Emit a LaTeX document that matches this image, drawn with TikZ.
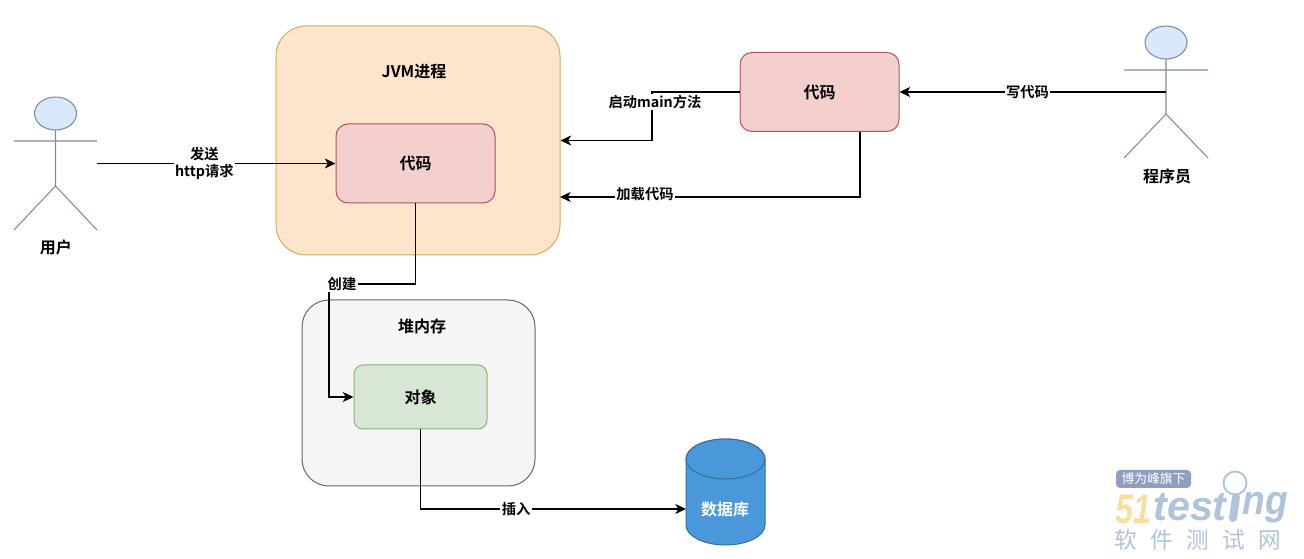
\documentclass[tikz,border=0pt]{standalone}
\usepackage{fontspec}
\setmainfont{Liberation Sans}
\newfontfamily\cjk{Noto Sans CJK SC}[BoldFont={Noto Sans CJK SC Bold}]
\usetikzlibrary{arrows.meta}
\definecolor{actorline}{HTML}{7F8BA3}
\definecolor{actorfill}{HTML}{DAE8FC}
\definecolor{wmblue}{HTML}{AFC3DC}
\definecolor{wmbadge}{HTML}{8E9FC2}
\definecolor{wmyellow}{HTML}{F8DFA0}
\definecolor{jvmfill}{HTML}{FCE5CB}
\definecolor{jvmdraw}{HTML}{CFAE5C}
\definecolor{codefill}{HTML}{F3D0CD}
\definecolor{codedraw}{HTML}{B0565A}
\definecolor{heapfill}{HTML}{F5F5F5}
\definecolor{heapdraw}{HTML}{666666}
\definecolor{objfill}{HTML}{D8E7D5}
\definecolor{objdraw}{HTML}{8DB374}
\definecolor{dbfill}{HTML}{4A98DA}
\definecolor{dbdraw}{HTML}{2F6DA8}
\newcommand{\pxw}{0.75pt}
\tikzset{
  x=0.75pt,y=-0.75pt,
  lbl/.style={font=\cjk\bfseries\fontsize{12}{14}\selectfont,align=center,inner sep=1pt,text=black},
  edgelbl/.style={font=\cjk\bfseries\fontsize{10.7}{13}\selectfont,align=center,inner sep=1pt,text=black,fill=white},
  box/.style={draw,line width=0.75pt,align=center,inner sep=0pt,font=\cjk\bfseries\fontsize{12}{14}\selectfont},
  jvmbox/.style={box,fill=jvmfill,draw=jvmdraw,minimum width=284*\pxw,minimum height=229*\pxw,rounded corners=30*\pxw},
  codebox/.style={box,fill=codefill,draw=codedraw,minimum width=159*\pxw,minimum height=79*\pxw,rounded corners=12*\pxw},
  heapbox/.style={box,fill=heapfill,draw=heapdraw,minimum width=233*\pxw,minimum height=186*\pxw,rounded corners=27*\pxw},
  objbox/.style={box,fill=objfill,draw=objdraw,minimum width=133*\pxw,minimum height=64*\pxw,rounded corners=9*\pxw},
  actor/.style={draw=actorline,line width=0.8pt},
  conn/.style={draw=black,line width=0.8pt,-{Stealth[length=8pt,width=7.5pt,inset=2.2pt]}},
}
\begin{document}
\begin{tikzpicture}
\useasboundingbox (0,0) rectangle (1304,559);
% containers
\node[jvmbox] (jvm) at (418,140.5) {};
\node[lbl] (jvmlabel) at (414,72) {JVM进程};
\node[codebox] (code) at (415.5,163.5) {代码};
\node[codebox] (code2) at (819.5,92) {代码};
\node[heapbox] (heap) at (418.5,393) {};
\node[lbl] (heaplabel) at (422,326) {堆内存};
\node[objbox] (obj) at (420.5,397) {对象};
% database
\draw[draw=dbdraw,fill=dbfill,line width=0.75pt] (686,459) arc [start angle=180,end angle=360,x radius=39.5,y radius=20]
  -- (765,525) arc [start angle=0,end angle=180,x radius=39.5,y radius=20] -- cycle;
\draw[draw=dbdraw,fill=dbfill,line width=0.75pt] (725.5,459) ellipse [x radius=39.5,y radius=20];
\node[lbl,text=white] (dblabel) at (725,509) {数据库};
% user
\draw[actor,fill=actorfill] (55.5,113.5) ellipse [x radius=21,y radius=16.5];
\coordinate (uhead) at (55.5,130);
\coordinate (ubody) at (55.5,186);
\coordinate (uarmL) at (14,141);
\coordinate (uarmR) at (97,141);
\coordinate (ulegL) at (14,230);
\coordinate (ulegR) at (97,230);
\draw[actor] (uhead) -- (ubody) (uarmL) -- (uarmR) (ulegL) -- (ubody) -- (ulegR);
\node[lbl] (ulabel) at (56,247) {用户};
\coordinate (usend) at (97,163.5);
% programmer
\draw[actor,fill=actorfill] (1166,42.5) ellipse [x radius=21,y radius=16.5];
\coordinate (phead) at (1166,59);
\coordinate (pbody) at (1166,114);
\coordinate (parmL) at (1124,70);
\coordinate (parmR) at (1208,70);
\coordinate (plegL) at (1124,158);
\coordinate (plegR) at (1208,158);
\draw[actor] (phead) -- (pbody) (parmL) -- (parmR) (plegL) -- (pbody) -- (plegR);
\node[lbl] (plabel) at (1167,176) {程序员};
\coordinate (pwrite) at (1166,92);
% connectors
\draw[conn] (usend) -- node[edgelbl,pos=0.45] (l1) {发送\\http请求} (code.west);
\draw[conn] (pwrite) -- node[edgelbl,pos=0.52] (l2) {写代码} (code2.east);
\coordinate (t1) at (652,92);
\draw[conn] (code2.west) -- (t1) -- (t1 |- jvm.east) -- (jvm.east);
\node[edgelbl] (l3) at (655,102) {启动main方法};
\coordinate (s2) at (860,132);
\coordinate (t2) at (560,197);
\draw[conn] (s2) |- (t2);
\node[edgelbl] (l4) at (645,194) {加载代码};
\coordinate (t3) at (415.5,284);
\coordinate (t4) at (329,284);
\draw[conn] (code.south) -- (t3) -- (t4) -- (t4 |- obj.west) -- (obj.west);
\node[edgelbl] (l5) at (342,284) {创建};
\coordinate (t5) at (686,509);
\draw[conn] (obj.south) |- node[edgelbl,pos=0.68] (l6) {插入} (t5);
% watermark
\node[fill=wmbadge,rounded corners=4*\pxw,minimum width=75*\pxw,minimum height=18*\pxw,inner sep=0pt,text=white,font=\cjk\fontsize{9.6}{11}\selectfont] (wmb) at (1153.5,479) {博为峰旗下};
\node[inner sep=0pt,text=wmyellow,xscale=0.78,font=\bfseries\itshape\fontsize{31}{31}\selectfont] (wm51) at (1133,509) {51};
\node[inner sep=0pt,text=wmblue,font=\bfseries\itshape\fontsize{31}{31}\selectfont] (wmt) at (1190,507) {test};
\node[inner sep=0pt,text=wmblue,xscale=0.9,font=\bfseries\itshape\fontsize{31}{31}\selectfont] (wmn) at (1265,508) {ng};
\draw[wmblue,line width=6pt,line cap=round] (1236,497) -- (1233,518);
\draw[draw=wmblue,line width=1.4pt,fill=white] (1235,483) circle [radius=11.5];
\node[inner sep=0pt,text=wmblue,font=\cjk\fontsize{17}{20}\selectfont] (wmc) at (1198,540) {软\hspace{10pt}件\hspace{10pt}测\hspace{10pt}试\hspace{10pt}网};
\end{tikzpicture}
\end{document}
